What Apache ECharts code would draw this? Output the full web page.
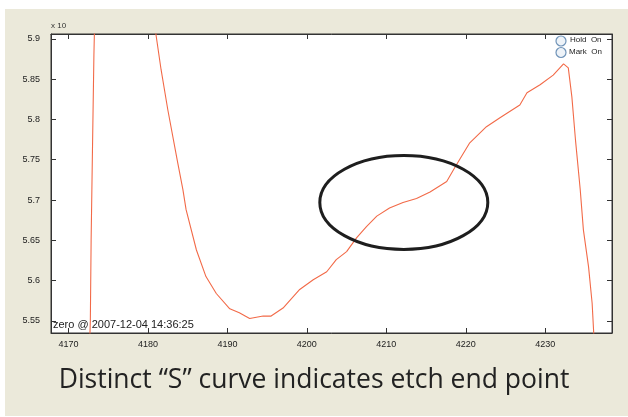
<!DOCTYPE html>
<html>
<head>
<meta charset="utf-8">
<script src="https://cdn.jsdelivr.net/npm/echarts@6/dist/echarts.min.js"></script>
<style>
  html, body { margin: 0; padding: 0; background: #ffffff; }
  #panel { position: absolute; left: 5px; top: 9px; width: 623px; height: 407px; background: #ebe9da; }
  #chart { position: absolute; left: 0; top: 0; width: 628px; height: 417px; }
</style>
</head>
<body>
<div id="panel"></div>
<div id="chart"></div>
<script>
// x positions of the trace
const traceX = [
    4172.6, 4172.75, 4172.85, 4173.0, 4173.2, 4173.4,
    4180.6, 4181.0, 4181.65, 4182.5, 4183.75, 4184.4, 4184.8, 4186.1, 4187.3, 4188.6,
    4190.3, 4191.5, 4192.8, 4194.5, 4195.5, 4197.0, 4199.1, 4200.8, 4202.5, 4203.7,
    4205.0, 4206.25, 4207.5, 4208.8, 4210.4, 4212.1, 4213.8, 4215.5, 4217.6, 4218.6,
    4220.5, 4222.6, 4224.3, 4226.8, 4227.7, 4229.35, 4231.0, 4232.3, 4232.5, 4232.9,
    4233.35, 4233.8, 4234.4, 4234.8, 4235.45, 4235.9, 4236.1, 4236.3
];
// signal (x 10^?)
const traceY = [
    5.50, 5.55, 5.65, 5.75, 5.88, 5.97,
    5.97, 5.906, 5.862, 5.812, 5.746, 5.713, 5.688, 5.638, 5.605, 5.584,
    5.565, 5.560, 5.553, 5.556, 5.556, 5.566, 5.589, 5.601, 5.611, 5.626,
    5.636, 5.653, 5.667, 5.680, 5.690, 5.697, 5.702, 5.710, 5.723, 5.740,
    5.771, 5.791, 5.802, 5.818, 5.833, 5.843, 5.855, 5.869, 5.870, 5.864,
    5.828, 5.775, 5.713, 5.663, 5.617, 5.572, 5.535, 5.50
];
const xTicks = [4170, 4180, 4190, 4200, 4210, 4220, 4230];
const yTicks = [5.55, 5.6, 5.65, 5.7, 5.75, 5.8, 5.85, 5.9];
const xRange = [4167.8, 4238.4];
const yRange = [5.535, 5.906];
const ellipseCenter = [4212.2, 5.697];
const caption = 'Distinct \u201cS\u201d curve indicates etch end point';
const stamp = 'zero @ 2007-12-04 14:36:25';

const chart = echarts.init(document.getElementById('chart'), null, { renderer: 'canvas' });

function axisBase(customTicks, showLabel) {
    return {
        type: 'value',
        scale: true,
        splitLine: { show: false },
        axisLine: { show: true, lineStyle: { color: '#333', width: 1 } },
        axisTick: { show: true, inside: true, length: 5, customValues: customTicks, lineStyle: { color: '#333' } },
        axisLabel: {
            show: showLabel,
            customValues: customTicks,
            formatter: v => String(v),
            color: '#222',
            fontSize: 9,
            fontFamily: 'Liberation Sans, Arial, sans-serif'
        }
    };
}

const xBottom = Object.assign(axisBase(xTicks, true), { position: 'bottom', min: xRange[0], max: xRange[1] });
xBottom.axisLabel.margin = 7;
const xTop = Object.assign(axisBase(xTicks, false), { position: 'top', min: xRange[0], max: xRange[1] });
const yLeft = Object.assign(axisBase(yTicks, true), { position: 'left', min: yRange[0], max: yRange[1] });
yLeft.axisLabel.margin = 11;
const yRight = Object.assign(axisBase(yTicks, false), { position: 'right', min: yRange[0], max: yRange[1] });

const option = {
    animation: false,
    backgroundColor: 'transparent',
    grid: {
        left: 51, top: 34, right: 16, bottom: 84,
        show: true, backgroundColor: '#ffffff', borderColor: '#333', borderWidth: 1
    },
    xAxis: [xBottom, xTop],
    yAxis: [yLeft, yRight],
    series: [{
        type: 'line',
        xAxisIndex: 0,
        yAxisIndex: 0,
        data: traceX.map((x, i) => [x, traceY[i]]),
        showSymbol: false,
        clip: true,
        lineStyle: { color: '#f26a48', width: 1.1 }
    }]
};
chart.setOption(option);

// ellipse annotation placed from data coordinates
const c = chart.convertToPixel({ xAxisIndex: 0, yAxisIndex: 0 }, ellipseCenter);
const font = 'Liberation Sans, Arial, sans-serif';
chart.setOption({
    graphic: [
        {
            id: 'exp', type: 'text', left: 51, top: 22,
            style: { text: 'x 10', fontSize: 8, fill: '#333', font: '8px ' + font }
        },
        {
            id: 'stamp', type: 'text', left: 53, top: 319,
            style: { text: stamp, fontSize: 11, fill: '#222', fontFamily: font }
        },
        {
            id: 'c1', type: 'circle', shape: { cx: 561, cy: 41, r: 5 },
            style: { fill: '#eef3f8', stroke: '#6f93b8', lineWidth: 1.2 }
        },
        {
            id: 'c2', type: 'circle', shape: { cx: 561, cy: 52.5, r: 5 },
            style: { fill: '#eef3f8', stroke: '#6f93b8', lineWidth: 1.2 }
        },
        {
            id: 't1', type: 'text', left: 570, top: 36,
            style: { text: 'Hold  On', fontSize: 8, fill: '#222', fontFamily: font }
        },
        {
            id: 't2', type: 'text', left: 569, top: 47.5,
            style: { text: 'Mark  On', fontSize: 8, fill: '#222', fontFamily: font }
        },
        {
            id: 'cap', type: 'text', left: 'center', top: 367,
            style: { text: caption, fontSize: 26.5, fill: '#222', fontFamily: 'Open Sans, Noto Sans, sans-serif' }
        },
        {
            id: 'ell', type: 'ellipse',
            shape: { cx: c[0], cy: c[1], rx: 84, ry: 47 },
            style: { fill: 'none', stroke: '#1e1e1e', lineWidth: 3 },
            z: 100
        }
    ]
});
</script>
</body>
</html>
